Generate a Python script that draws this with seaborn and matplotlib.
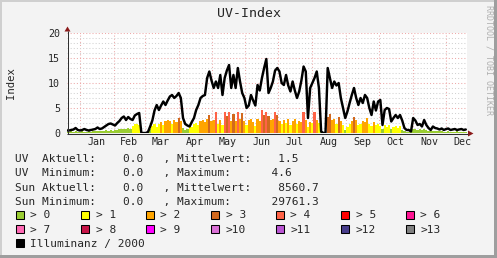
import numpy as np
import pandas as pd
import matplotlib
matplotlib.use("Agg")
import matplotlib.pyplot as plt
from matplotlib.patches import Rectangle, Polygon
import seaborn as sns

# ---------------- data (2-day steps, day 0 = 1 Jan) ----------------
start_day = -12
step_days = 2

illum = [  # Illuminanz / 2000
    0.5, 0.5, 0.6, 0.7, 1.0, 0.6,
    0.5, 0.6, 0.8, 0.6, 0.5, 0.6, 0.7, 0.8, 1.1, 0.8, 0.9, 1.2, 1.5, 1.8, 1.9, 1.7,
    1.5, 2.0, 2.4, 3.0, 3.3, 2.6, 3.2, 2.8, 2.6, 3.5, 3.8, 4.0, 0.0, 0.0,
    0.0, 0.2, 1.3, 2.5, 4.5, 5.6, 4.6, 5.5, 6.3, 5.6, 6.5, 7.3, 7.6, 7.0, 7.4,
    8.0, 7.0, 3.0, 1.8, 1.5, 1.3, 2.2, 3.0, 4.6, 5.6, 7.0, 7.4, 7.6, 11.0, 12.3,
    10.5, 9.0, 10.3, 9.0, 11.6, 7.6, 11.0, 12.5, 13.6, 9.0, 11.6, 9.0, 13.0, 10.3, 8.0, 7.0,
    5.0, 5.5, 7.6, 6.5, 5.5, 9.6, 8.5, 11.0, 13.0, 14.8, 8.0, 9.0, 10.3, 12.5, 13.0,
    12.3, 10.0, 9.6, 11.6, 9.5, 8.3, 10.3, 8.5, 7.0, 8.3, 10.5, 13.3, 12.3, 3.0, 9.0,
    10.0, 11.0, 12.3, 9.0, 0.3, 0.0, 0.0, 13.0, 11.0, 9.0, 10.3, 9.5, 10.0, 7.0, 5.0, 3.0,
    4.3, 6.0, 7.6, 9.0, 7.0, 5.6, 7.0, 6.0, 7.6, 7.0, 5.0, 3.6, 6.3, 4.5, 6.3,
    6.6, 1.6, 4.6, 5.0, 4.8, 2.3, 3.0, 3.6, 3.0, 3.6, 2.5, 1.0, 0.6, 0.6, 0.3,
    3.0, 2.5, 1.6, 1.8, 1.3, 2.6, 1.6, 1.0, 0.6, 1.3, 1.0, 0.9, 0.7, 0.9, 0.6,
    0.8, 0.9, 0.6, 0.7, 0.8, 0.6, 0.7, 0.8, 0.6, 0.7,
]

uv = [  # UV index
    0.3, 0.3, 0.4, 0.3, 0.4, 0.3,
    0.3, 0.4, 0.3, 0.3, 0.4, 0.3, 0.4, 0.4, 0.5, 0.4, 0.4, 0.5, 0.6, 0.5, 0.6, 0.5,
    0.6, 0.7, 0.8, 0.9, 0.8, 0.9, 1.0, 0.9, 1.4, 1.8, 1.9, 1.6, 0.0, 0.0,
    0.0, 0.2, 0.8, 1.4, 1.8, 1.2, 1.9, 2.2, 1.6, 2.4, 2.6, 2.5, 1.8, 2.6, 2.3,
    3.1, 2.4, 1.0, 0.6, 0.9, 1.5, 1.3, 1.8, 2.0, 1.6, 2.5, 2.7, 2.2, 2.8, 3.6,
    2.5, 2.7, 4.3, 1.8, 2.6, 1.6, 4.2, 3.5, 4.3, 2.5, 3.8, 2.4, 4.2, 2.8, 4.0, 2.5,
    1.7, 2.6, 2.9, 2.2, 1.5, 2.8, 2.4, 4.6, 3.6, 4.3, 3.5, 2.6, 2.9, 4.3, 3.7,
    2.4, 1.8, 2.6, 2.0, 2.8, 1.6, 2.5, 2.9, 1.8, 2.4, 2.2, 4.3, 2.6, 1.2, 2.3,
    2.0, 4.3, 2.6, 2.0, 0.2, 0.0, 0.0, 3.2, 3.8, 2.6, 2.9, 1.8, 3.2, 2.4, 1.6, 0.6,
    1.3, 1.8, 2.4, 3.3, 2.6, 1.7, 1.9, 2.4, 2.2, 3.0, 1.8, 1.5, 2.3, 1.6, 1.9,
    1.4, 0.8, 1.7, 1.3, 1.6, 0.9, 1.2, 1.5, 1.1, 1.4, 0.7, 0.4, 0.3, 0.3, 0.2,
    0.9, 0.8, 0.7, 0.8, 0.6, 0.9, 0.7, 0.5, 0.4, 0.5, 0.5, 0.4, 0.4, 0.4, 0.3,
    0.3, 0.4, 0.3, 0.3, 0.3, 0.4, 0.3, 0.3, 0.3, 0.3,
]

month_names = ["Jan", "Feb", "Mar", "Apr", "May", "Jun",
               "Jul", "Aug", "Sep", "Oct", "Nov", "Dec"]
month_starts = [0, 31, 59, 90, 120, 151, 181, 212, 243, 273, 304, 334]
month_mids = [15, 45, 74, 105, 135, 166, 196, 227, 258, 288, 319, 349]
y_ticks = [0, 5, 10, 15, 20]

level_labels = ["> 0", "> 1", "> 2", "> 3", "> 4", "> 5", "> 6",
                "> 7", "> 8", "> 9", ">10", ">11", ">12", ">13"]
level_colors = ["#9ACD32", "#FFFF00", "#FFA500", "#D2691E", "#FF6347",
                "#FF0000", "#FF1493", "#FF69B4", "#C71548", "#FF00FF",
                "#DA70D6", "#BA55D3", "#483D8B", "#808080"]

stats_lines = [
    "UV  Aktuell:    0.0   , Mittelwert:    1.5",
    "UV  Minimum:    0.0   , Maximum:      4.6",
    "Sun Aktuell:    0.0   , Mittelwert:    8560.7",
    "Sun Minimum:    0.0   , Maximum:      29761.3",
]
line_label = "Illuminanz / 2000"

# ---------------- figure ----------------
sns.set_style("white")
plt.rcParams["font.family"] = ["DejaVu Sans Mono", "DejaVu Sans"]

W, H = 497, 258
L, R, T, B = 67, 467, 33, 133
BG = "#F3F3F3"
fig = plt.figure(figsize=(W / 100, H / 100), dpi=100, facecolor=BG)
ax = fig.add_axes([L / W, 1 - B / H, (R - L) / W, (B - T) / H])
ax.set_facecolor("white")

days = start_day + step_days * np.arange(len(illum))
df = pd.DataFrame({"day": days, "uv": uv[:len(days)], "illum": illum})
df_uv = df[df["uv"] > 0].copy()
lvl = (np.ceil(df_uv["uv"]) - 1).astype(int)
df_uv["color"] = [level_colors[i] for i in lvl]

ax.bar(df_uv["day"], df_uv["uv"], width=step_days, color=df_uv["color"],
       linewidth=0, align="center", zorder=2)
sns.lineplot(data=df, x="day", y="illum", color="black", linewidth=1.75, ax=ax, zorder=3)

px_per_day = 1.096
ax.set_xlim((L - 80) / px_per_day, (R - 80) / px_per_day)
ax.set_ylim(0, 20)
ax.set_xticks(month_starts)
ax.set_xticklabels([])
ax.set_xticks(month_mids, minor=True)
ax.set_xticklabels(month_names, minor=True)
ax.set_yticks(y_ticks)
ax.set_yticks([v for v in range(0, 21) if v % 5], minor=True)
ax.set_axisbelow(True)
ax.grid(which="major", axis="both", color="#EDA9A9", linestyle=(0, (1, 2)), linewidth=0.75)
ax.grid(which="minor", axis="y", color="#D2D2D2", linestyle=(0, (1, 2)), linewidth=0.75)
ax.tick_params(which="both", length=0)
ax.tick_params(axis="y", which="major", labelsize=7.2, pad=5)
ax.tick_params(axis="x", which="minor", labelsize=7.2, pad=3)
for s in ax.spines.values():
    s.set_visible(False)
ax.set_xlabel("")
ax.set_ylabel("")

# ---------------- overlay in pixel coordinates ----------------
ov = fig.add_axes([0, 0, 1, 1], zorder=5)
ov.set_xlim(0, W)
ov.set_ylim(H, 0)
ov.axis("off")
ov.patch.set_alpha(0)

# axes lines + arrows
ov.plot([67.5, 67.5], [134, 31], color="#303030", lw=0.75, solid_capstyle="butt")
ov.plot([67, 468], [133.5, 133.5], color="#303030", lw=0.75, solid_capstyle="butt")
ov.add_patch(Polygon([[64.5, 31.5], [70.5, 31.5], [67.5, 26.5]], closed=True, color="#8B1A1A", lw=0))
ov.add_patch(Polygon([[468, 130.5], [468, 136.5], [473.5, 133.5]], closed=True, color="#8B1A1A", lw=0))

# title, y label, watermark
ov.text(248.5, 13.5, "UV-Index", ha="center", va="center", fontsize=9.5)
ov.text(11, 83, "Index", rotation=90, ha="center", va="center", fontsize=7.7)
ov.text(489, 60, "RRDTOOL / TOBI OETIKER", rotation=-90, ha="center", va="center",
        fontsize=6, color="#B0B0B0")

# stats lines
for i, s in enumerate(stats_lines):
    ov.text(15, 162 + 14.4 * i, s, ha="left", va="baseline", fontsize=8)

# legend squares
for i, (lab, col) in enumerate(zip(level_labels, level_colors)):
    r, c = divmod(i, 7)
    x0 = 15.5 + 65 * c
    y0 = 210.5 + 14.3 * r
    ov.add_patch(Rectangle((x0, y0), 8, 8, facecolor=col, edgecolor="black", lw=0.75))
    ov.text(x0 + 15, y0 + 8, lab, ha="left", va="baseline", fontsize=8)
ov.add_patch(Rectangle((15.5, 239.1), 8, 8, facecolor="black", edgecolor="black", lw=0.75))
ov.text(30.5, 247.1, line_label, ha="left", va="baseline", fontsize=8)

# 3D border
ov.add_patch(Rectangle((0, 0), W, 2, color="#CFCFCF", lw=0))
ov.add_patch(Rectangle((0, 0), 2, H, color="#CFCFCF", lw=0))
ov.add_patch(Rectangle((0, H - 3), W, 3, color="#9E9E9E", lw=0))
ov.add_patch(Rectangle((W - 3, 0), 3, H, color="#9E9E9E", lw=0))

fig.savefig("out.png", dpi=100, facecolor=BG)
